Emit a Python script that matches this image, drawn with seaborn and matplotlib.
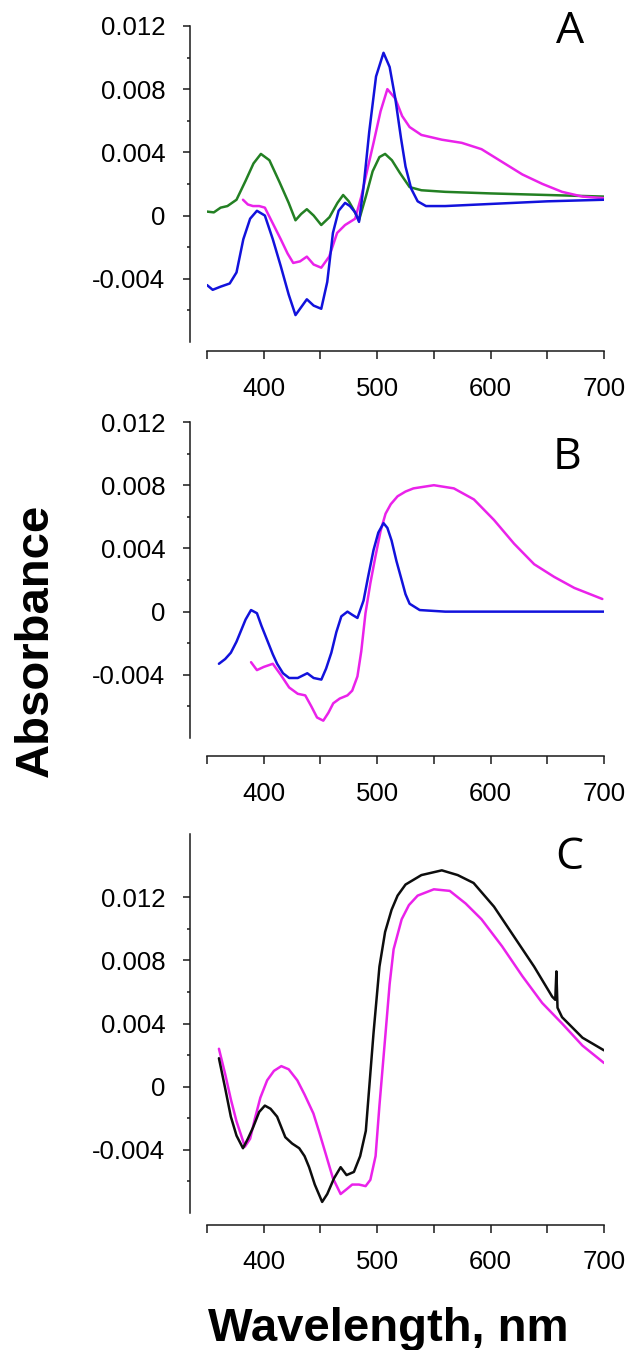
import matplotlib
matplotlib.use("Agg")
import matplotlib.pyplot as plt
import numpy as np
import pandas as pd
import seaborn as sns
from matplotlib.ticker import FixedLocator, FuncFormatter

# --- values (wavelength nm, absorbance) ---
a_green_wl = [350, 356, 362, 368, 376, 384, 391, 397.5, 405, 414, 422, 428, 433, 438, 444,
              450.7, 458, 465, 470, 475, 479, 484, 490, 496, 502, 507, 513, 520, 528.6,
              539, 560, 600, 650, 700]
a_green_ab = [0.00025, 0.0002, 0.0005, 0.0006, 0.001, 0.0022, 0.0033, 0.0039, 0.0035, 0.0021,
              0.0008, -0.0003, 0.0001, 0.0004, 0.0, -0.0006, -0.0001, 0.0008, 0.0013, 0.0009,
              0.0004, -0.0003, 0.0012, 0.0028, 0.0037, 0.0039, 0.0035, 0.0027, 0.0018,
              0.0016, 0.0015, 0.0014, 0.0013, 0.0012]
a_blue_wl = [350, 355, 362, 370, 376, 382, 388, 394, 401, 408, 415, 422, 428, 433, 438, 444,
             450.7, 456, 461, 466, 471.7, 476, 480.6, 484, 488, 493, 499, 505.6, 511, 516,
             521, 525, 530, 535.7, 543, 560, 590, 620, 650, 700]
a_blue_ab = [-0.0044, -0.0047, -0.0045, -0.0043, -0.0036, -0.0015, -0.0002, 0.0003, 0.0, -0.0015,
             -0.0032, -0.005, -0.0063, -0.0058, -0.0053, -0.0057, -0.0059, -0.0042, -0.0011, 0.0003,
             0.0008, 0.0006, 0.0002, -0.0004, 0.0018, 0.0053, 0.0088, 0.0103, 0.0094, 0.0074,
             0.0049, 0.0031, 0.0017, 0.0009, 0.0006, 0.0006, 0.0007, 0.0008, 0.0009, 0.001]
a_mag_wl = [381.7, 386, 390.5, 396, 401, 408, 415, 421, 426, 432, 438, 444, 450.7, 457.7,
            464.7, 471.7, 480.6, 486, 491, 496.8, 503, 509, 516, 522, 528.6, 539, 557,
            574.6, 592, 610, 628, 645.7, 663, 681, 700]
a_mag_ab = [0.001, 0.0007, 0.0006, 0.0006, 0.0005, -0.0005, -0.0015, -0.0024, -0.003, -0.0029,
            -0.0026, -0.0031, -0.0033, -0.0026, -0.0011, -0.0006, -0.0002, 0.0012, 0.0028,
            0.0046, 0.0066, 0.008, 0.0074, 0.0063, 0.0056, 0.0051, 0.0048, 0.0046, 0.0042,
            0.0034, 0.0026, 0.002, 0.0015, 0.0012, 0.0011]

b_blue_wl = [360.5, 366, 371, 376, 380, 384, 388.8, 394, 398, 403, 408, 411.8, 417, 422.4,
             430, 438.4, 444, 450.8, 455, 459.6, 464, 468.4, 473.8, 478, 482.6, 488, 492,
             496.8, 501, 505.6, 509, 512.7, 517, 521.6, 525, 528.6, 537.5, 560, 600, 650, 700]
b_blue_ab = [-0.0033, -0.003, -0.0026, -0.0019, -0.0012, -0.0005, 0.0001, -0.0001, -0.0009,
             -0.0018, -0.0027, -0.0033, -0.0039, -0.0042, -0.0042, -0.0039, -0.0042, -0.0043,
             -0.0036, -0.0026, -0.0013, -0.0003, 0.0, -0.0002, -0.0004, 0.0007, 0.0022,
             0.0039, 0.005, 0.0056, 0.0053, 0.0045, 0.0032, 0.002, 0.0011, 0.0005, 0.0001,
             0.0, 0.0, 0.0, 0.0]
b_mag_wl = [388.8, 394, 400, 408, 415, 422.4, 430, 436.6, 442, 447, 452.5, 457, 461.3, 467,
            473.8, 478, 482.6, 486, 489.7, 494, 498.5, 503, 507.4, 512, 518, 525, 532, 550,
            567.6, 585.3, 603, 620.7, 638.4, 656, 673.8, 698.5]
b_mag_ab = [-0.0032, -0.0037, -0.0035, -0.0033, -0.004, -0.0048, -0.0052, -0.0053, -0.006,
            -0.0067, -0.0069, -0.0064, -0.0058, -0.0055, -0.0053, -0.005, -0.0041, -0.0025,
            -0.0001, 0.0018, 0.0035, 0.0051, 0.0062, 0.0068, 0.0073, 0.0076, 0.0078, 0.008,
            0.0078, 0.0071, 0.0058, 0.0043, 0.003, 0.0022, 0.0015, 0.0008]

c_black_wl = [360.5, 366, 371, 376, 381.7, 386, 390.5, 396, 401, 406, 411.8, 419, 425, 431.3,
              436, 440, 445, 451.5, 456, 462, 467.8, 473, 479.5, 485, 490, 496.8, 502, 507,
              512.7, 518, 525, 539, 557, 571, 585, 603, 620.7, 638.4, 654.3, 657, 658, 659,
              663, 681, 700]
c_black_ab = [0.0018, -0.0001, -0.0019, -0.0031, -0.0039, -0.0033, -0.0026, -0.0016, -0.0012,
              -0.0014, -0.0019, -0.0032, -0.0036, -0.0039, -0.0044, -0.0051, -0.0062, -0.0073,
              -0.0068, -0.0058, -0.0051, -0.0056, -0.0054, -0.0044, -0.0028, 0.0034, 0.0076,
              0.0098, 0.0112, 0.0121, 0.0128, 0.0134, 0.0137, 0.0134, 0.0129, 0.0114, 0.0095,
              0.0076, 0.0057, 0.0055, 0.0073, 0.005, 0.0044, 0.0031, 0.0023]
c_mag_wl = [360.5, 366, 371, 376, 383.4, 388, 392.3, 397, 403, 409, 415.5, 422, 429.6, 436,
            443.8, 449, 454.4, 461, 467.8, 473, 478, 484, 489.8, 494, 498.6, 502, 507.4, 511,
            514.5, 521.6, 528, 535.7, 550, 564, 578, 592, 610, 628, 645.5, 663, 681, 700]
c_mag_ab = [0.0024, 0.0008, -0.0008, -0.0022, -0.0038, -0.0033, -0.002, -0.0007, 0.0004, 0.001,
            0.0013, 0.0011, 0.0004, -0.0005, -0.0017, -0.0029, -0.0042, -0.0058, -0.0068,
            -0.0065, -0.0062, -0.0062, -0.0063, -0.0059, -0.0044, -0.0012, 0.0034, 0.0065,
            0.0087, 0.0106, 0.0115, 0.0121, 0.0125, 0.0124, 0.0116, 0.0106, 0.0089, 0.007,
            0.0053, 0.004, 0.0026, 0.0015]

x_major = [400, 500, 600, 700]
x_minor = [350, 450, 550, 650]
y_major = [-0.004, 0, 0.004, 0.008, 0.012]
y_minor = [-0.006, -0.002, 0.002, 0.006, 0.010]

BLUE = "#1212dc"
MAGENTA = "#ea22ea"
GREEN = "#238023"
BLACK = "#0d0d0d"
AXC = "#1a1a1a"

sns.set_style("ticks")
plt.rcParams["font.family"] = ["Liberation Sans", "DejaVu Sans"]
plt.rcParams["text.color"] = "black"
plt.rcParams["xtick.labelcolor"] = "black"
plt.rcParams["ytick.labelcolor"] = "black"


def frame(wl, ab, name):
    return pd.DataFrame({"wl": wl, "ab": ab, "series": name})


def fmt_y(v, pos):
    if abs(v) < 1e-9:
        return "0"
    return f"{v:.3f}"


def style_axis(ax, ytop, xoff):
    ax.set_xlim(350, 700)
    ax.set_ylim(-0.008, ytop)
    ax.set_xlabel("")
    ax.set_ylabel("")
    if ax.get_legend() is not None:
        ax.get_legend().remove()
    sns.despine(ax=ax)
    ax.spines["left"].set_position(("outward", 12))
    ax.spines["bottom"].set_position(("outward", xoff))
    ax.spines["left"].set_bounds(-0.008, ytop)
    ax.spines["bottom"].set_bounds(350, 700)
    for s in ("left", "bottom"):
        ax.spines[s].set_linewidth(1.1)
        ax.spines[s].set_color(AXC)
    ax.xaxis.set_major_locator(FixedLocator(x_major))
    ax.xaxis.set_minor_locator(FixedLocator(x_minor))
    ax.yaxis.set_major_locator(FixedLocator(y_major))
    ax.yaxis.set_minor_locator(FixedLocator(y_minor))
    ax.yaxis.set_major_formatter(FuncFormatter(fmt_y))
    ax.tick_params(axis="x", which="both", direction="out", length=5.5, width=1.1,
                   labelsize=18.5, pad=13, color=AXC, labelcolor="black")
    ax.tick_params(axis="y", which="major", direction="out", length=5, width=1.1,
                   labelsize=18.5, pad=13, color=AXC, labelcolor="black")
    ax.tick_params(axis="y", which="minor", direction="out", length=2.5, width=1.1,
                   color=AXC)
    ax.patch.set_alpha(0)


fig = plt.figure(figsize=(6.26, 13.5), dpi=100)
lw = 1.8

# panel A
axA = fig.add_axes([0.3307, 0.7467, 0.6342, 0.2341])
dfA = pd.concat([frame(a_green_wl, a_green_ab, "green"),
                 frame(a_mag_wl, a_mag_ab, "magenta"),
                 frame(a_blue_wl, a_blue_ab, "blue")])
sns.lineplot(data=dfA, x="wl", y="ab", hue="series", sort=False, ax=axA,
             palette={"green": GREEN, "magenta": MAGENTA, "blue": BLUE},
             linewidth=lw, estimator=None)
style_axis(axA, 0.012, 6.5)

# panel B
axB = fig.add_axes([0.3307, 0.4533, 0.6342, 0.2341])
dfB = pd.concat([frame(b_mag_wl, b_mag_ab, "magenta"),
                 frame(b_blue_wl, b_blue_ab, "blue")])
sns.lineplot(data=dfB, x="wl", y="ab", hue="series", sort=False, ax=axB,
             palette={"magenta": MAGENTA, "blue": BLUE},
             linewidth=lw, estimator=None)
style_axis(axB, 0.012, 13)

# panel C
axC = fig.add_axes([0.3307, 0.1015, 0.6342, 0.2807])
dfC = pd.concat([frame(c_mag_wl, c_mag_ab, "magenta"),
                 frame(c_black_wl, c_black_ab, "black")])
sns.lineplot(data=dfC, x="wl", y="ab", hue="series", sort=False, ax=axC,
             palette={"magenta": MAGENTA, "black": BLACK},
             linewidth=lw, estimator=None)
style_axis(axC, 0.016, 8.5)

# panel letters
letter_font = ["Open Sans", "DejaVu Sans"]
for letter, (px, py) in zip(["A", "B", "C"], [(570, 32), (567, 458), (569, 858)]):
    fig.text(px / 626, 1 - py / 1350, letter, ha="center", va="center",
             fontsize=32, family=letter_font)

fig.text(0.0575, 1 - 640 / 1350, "Absorbance", rotation=90, ha="center", va="center",
         fontsize=34, fontweight="bold")
fig.text(388 / 626, 1 - 1329 / 1350, "Wavelength, nm", ha="center", va="center",
         fontsize=34, fontweight="bold")

fig.savefig("out.png", dpi=100)
